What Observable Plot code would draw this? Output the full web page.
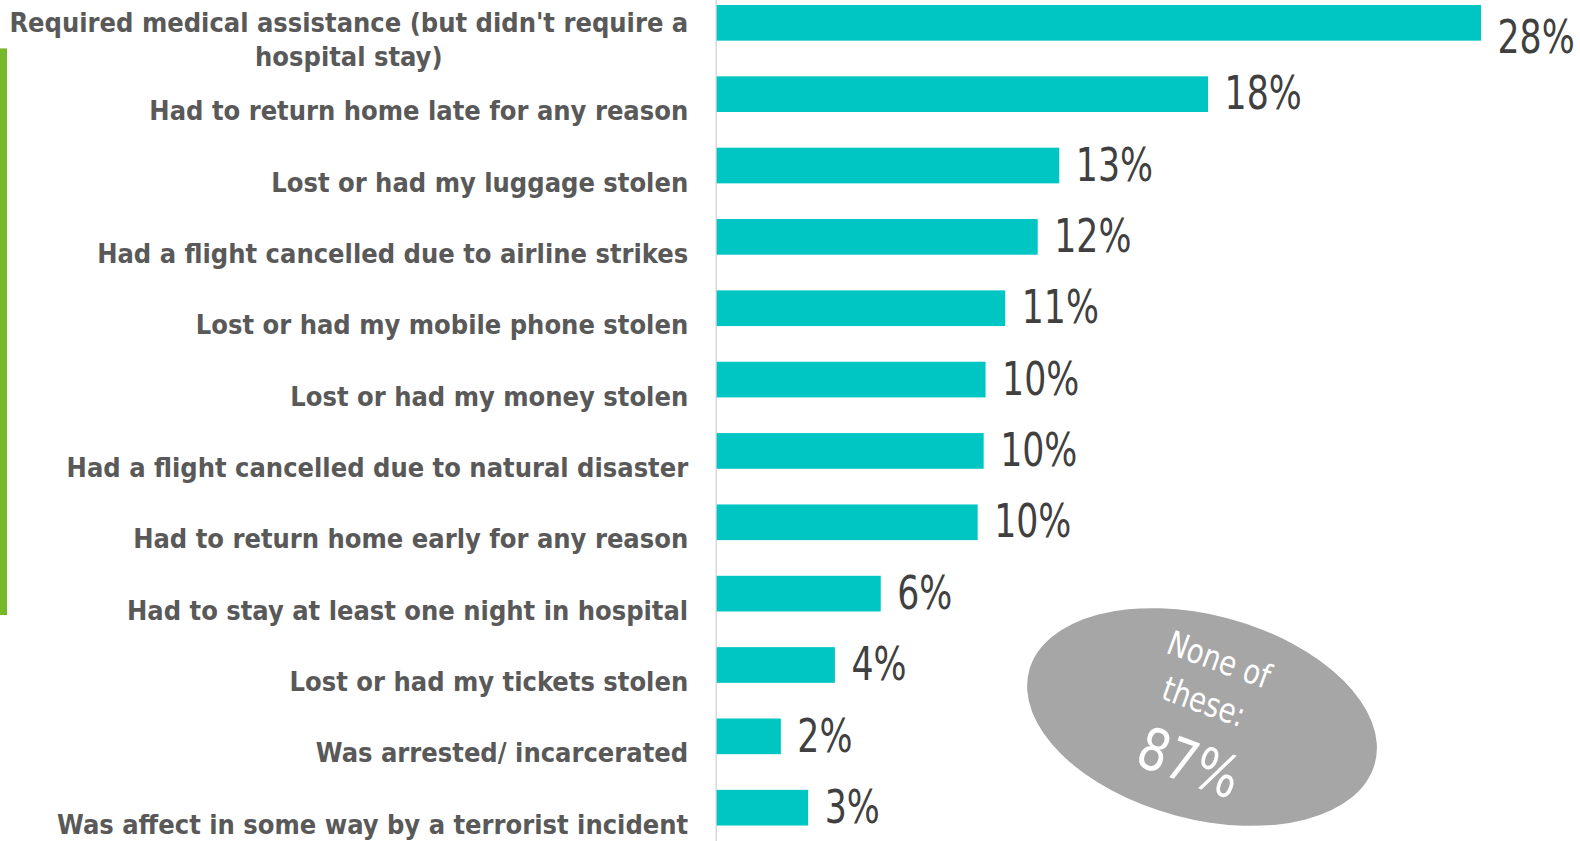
<!DOCTYPE html>
<html>
<head>
<meta charset="utf-8">
<script src="https://cdn.jsdelivr.net/npm/d3@7"></script>
<script src="https://cdn.jsdelivr.net/npm/@observablehq/plot@0.6"></script>
<style>
  html, body { margin: 0; padding: 0; background: #fff; overflow: hidden; }
  #chart { position: relative; width: 1580px; height: 841px; }
</style>
</head>
<body>
<div id="chart"></div>
<script>
const categories = [
  "Required medical assistance (but didn't require a\nhospital stay)",
  "Had to return home late for any reason",
  "Lost or had my luggage stolen",
  "Had a flight cancelled due to airline strikes",
  "Lost or had my mobile phone stolen",
  "Lost or had my money stolen",
  "Had a flight cancelled due to natural disaster",
  "Had to return home early for any reason",
  "Had to stay at least one night in hospital",
  "Lost or had my tickets stolen",
  "Was arrested/ incarcerated",
  "Was affect in some way by a terrorist incident"
];
const values = [28, 18, 12.55, 11.76, 10.57, 9.85, 9.78, 9.56, 6.01, 4.33, 2.35, 3.35];
const valueLabels = ["28%", "18%", "13%", "12%", "11%", "10%", "10%", "10%", "6%", "4%", "2%", "3%"];
const noneLabel = ["None of", "these:"];
const noneValue = "87%";

const data = categories.map((c, i) => ({cat: c, value: values[i], label: valueLabels[i], i}));

const labelFont = "'DejaVu Sans Condensed', 'DejaVu Sans', sans-serif";
const valueFont = "'DejaVu Sans Condensed', 'DejaVu Sans', sans-serif";

const labelStyle = {
  fill: "#595959", fontSize: 27, fontWeight: "bold", fontFamily: labelFont,
  lineAnchor: "middle", lineHeight: 1.27
};

const plot = Plot.plot({
  width: 1580,
  height: 841,
  marginTop: 0, marginBottom: 0, marginLeft: 0, marginRight: 0,
  style: {background: "#fff", overflow: "visible"},
  x: {domain: [0, 28], range: [716.7, 1481], axis: null},
  y: {domain: categories, range: [-30.7, 861.2], padding: 0.5, round: false, axis: null},
  marks: [
    Plot.ruleX([0], {dx: -1, stroke: "#d9d9d9", strokeWidth: 1.5}),
    Plot.barX(data, {x: "value", y: "cat", fill: "#00c6c3"}),
    // first (two-line) label is centred on its block
    Plot.text(data.filter(d => d.i === 0), {
      x: 0, y: "cat", text: "cat", dx: -29, dy: 14.5,
      textAnchor: "end", ...labelStyle, className: "firstlabel"
    }),
    Plot.text(data.filter(d => d.i !== 0), {
      x: 0, y: "cat", text: "cat", dx: -29, dy: 14.5,
      textAnchor: "end", ...labelStyle
    }),
    Plot.text(data.filter(d => d.i === 0), {
      x: "value", y: "cat", text: "label", dx: 16, dy: 15,
      textAnchor: "start", lineAnchor: "middle",
      fill: "#404040", fontSize: 46, fontFamily: valueFont, className: "vlabel"
    }),
    Plot.text(data.filter(d => d.i !== 0), {
      x: "value", y: "cat", text: "label", dx: 16,
      textAnchor: "start", lineAnchor: "middle",
      fill: "#404040", fontSize: 46, fontFamily: valueFont, className: "vlabel"
    })
  ]
});

document.getElementById("chart").appendChild(plot);

const svg = d3.select(plot);
// narrow the value labels horizontally (condensed look)
svg.selectAll("g.vlabel text").each(function() {
  const tr = this.getAttribute("transform") || "";
  this.setAttribute("transform", tr + " scale(0.84,1)");
});

// centre the lines of the two-line label under each other (right edge kept)
svg.selectAll("g.firstlabel text").each(function() {
  const w = this.getBBox().width;
  this.setAttribute("text-anchor", "middle");
  const tr = this.getAttribute("transform") || "";
  this.setAttribute("transform", tr + ` translate(${-w / 2},0)`);
});

// green accent bar at the left edge
svg.append("rect")
  .attr("x", 0).attr("y", 48.4).attr("width", 7).attr("height", 566.6)
  .attr("fill", "#77b82a");

// "None of these" ellipse
svg.append("ellipse")
  .attr("rx", 179).attr("ry", 102)
  .attr("transform", "translate(1202,717) rotate(15)")
  .attr("fill", "#a6a6a6");

const ellTexts = [
  {text: noneLabel[0], x: 1219, y: 660, size: 34},
  {text: noneLabel[1], x: 1204, y: 702, size: 34},
  {text: noneValue, x: 1189, y: 763, size: 58}
];
svg.append("g").selectAll("text").data(ellTexts).join("text")
  .attr("transform", d => `translate(${d.x},${d.y}) rotate(20) scale(0.9,1)`)
  .attr("text-anchor", "middle")
  .attr("dominant-baseline", "central")
  .attr("font-family", valueFont)
  .attr("font-size", d => d.size)
  .attr("fill", "#fff")
  .text(d => d.text);
</script>
</body>
</html>
